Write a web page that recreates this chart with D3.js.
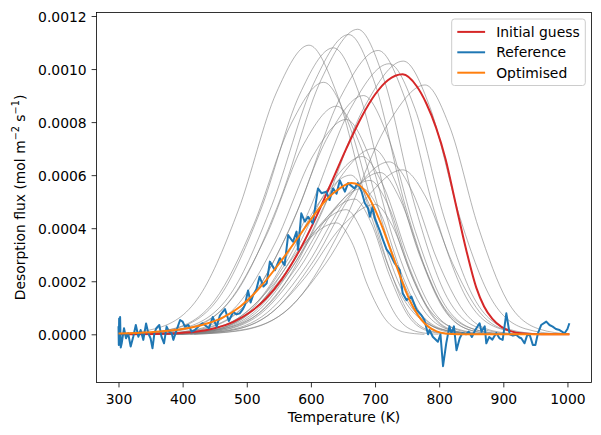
<!DOCTYPE html>
<html><head><meta charset="utf-8">
<script src="https://cdn.jsdelivr.net/npm/d3@7"></script>
<style>body{margin:0;background:#fff}svg{display:block}text{font-family:"DejaVu Sans",sans-serif;fill:#000}</style>
</head><body>
<script>
const xTicks = [300, 400, 500, 600, 700, 800, 900, 1000];
const yTicks = [0, 0.0002, 0.0004, 0.0006, 0.0008, 0.0010, 0.0012];
const legendLabels = ["Initial guess", "Reference", "Optimised"];
const seriesColors = ["#d62728", "#1f77b4", "#ff7f0e"];

const initialGuess = [[300,0],[370,0.000002],[400,0.000006],[420,0.00001],[450,0.000023],[480,0.000048],[505,0.000083],[530,0.000135],[555,0.000209],[580,0.000307],[605,0.000426],[630,0.000561],[655,0.000699],[680,0.000824],[700,0.000904],[720,0.000958],[743,0.00098],[765,0.000935],[780,0.00087],[795,0.00078],[810,0.00066],[825,0.0005],[842,0.00032],[858,0.000175],[870,0.000105],[883,0.000058],[897,0.000028],[910,0.000013],[930,0.000003],[960,0],[1003,0]];

const optimised = [[300,0.000003],[350,0.000008],[400,0.00002],[430,0.000035],[460,0.00006],[490,0.000105],[520,0.000175],[550,0.000265],[580,0.000365],[605,0.00045],[625,0.00051],[645,0.00055],[663,0.00057],[675,0.000562],[687,0.00053],[700,0.00047],[712,0.0004],[724,0.00032],[736,0.00024],[748,0.000162],[760,0.0001],[772,0.000055],[784,0.000027],[796,0.000011],[810,0.000003],[830,0],[1003,0]];

const referenceT = [300,300.5,301,301.8,302.5,303.5,305,308.6,311.7,315,319,323,327,331,334.5,338.7,343,346.5,350,353,356,359,363.6,367,371,375,379,383,385.5,390.6,396,400,403.6,409,414,419,425,431,441,447,453,458,466,472,479,484,489,494,497,502,506,510,515,520,526,531,536,544,551.6,559,564.5,572,577.6,580,585,590.5,595.6,603,611,616.5,624,629,634.6,640,645,653,658,668,673,679,684,689,692,696,699.5,707,712.5,718,724,730,738.5,743,749,756.7,764.5,772,777,782.6,785,790,798,802,806,811,816,819,823,827,832,836,842,846,851,856,863,866,871,873.5,878,883,889,894,899,904.7,910,915,920,925,928,933,937,941,946,950,954,959,967,972,977,982,987.7,995.5,1000,1003];
const referenceV = [0.00003,-0.00004,0.00006,-0.00003,0.000065,-0.00005,-0.000034,0.000023,-0.000015,0.000004,-0.000046,-0.000009,0.000035,-0.000009,0.000016,-0.000021,0.000041,0.000004,-0.000015,-0.000053,0.000004,0.000023,0.000035,-0.000009,-0.000034,0.000029,0.00001,0.000004,-0.000021,0.000016,0.000054,0.000048,0.000029,0.000035,0.00001,0.000016,0.00003,0.000042,0.000023,0.000065,0.000029,0.00007,0.000095,0.00005,0.000085,0.000075,0.000079,0.000095,0.00011,0.000165,0.00012,0.000148,0.00017,0.000217,0.00018,0.000192,0.000274,0.000242,0.000287,0.000261,0.000374,0.000349,0.000387,0.000318,0.000456,0.000425,0.000443,0.000418,0.00055,0.000532,0.000538,0.000506,0.00055,0.00053,0.00058,0.000538,0.00057,0.00055,0.00057,0.000538,0.000495,0.000475,0.000443,0.00048,0.000438,0.000393,0.000355,0.00032,0.0003,0.00027,0.000242,0.000155,0.000129,0.000142,0.000092,0.000073,0.000054,0,0.000016,-0.000009,-0.000028,0,-0.00012,-0.000034,0.00003,0.000004,0.00003,-0.00006,-0.000015,0.000004,0,0.00001,-0.00001,0.000015,0.0000415,0.00001,0.00003,-0.000034,-0.00001,-0.00002,0.000005,-0.000015,-0.000021,0.000079,0,-0.000005,-0.000002,-0.000012,-0.000015,-0.000034,-0.000005,-0.000001,-0.00004,-0.00004,0.000004,0.000035,0.000048,0.000035,0.000029,0.00002,0.000016,0.000004,0.00002,0.0000415];

const sampleA = [[300,0.000002],[359,0.000022],[427,0.000147],[487,0.000469],[546,0.00091],[597,0.00109],[640,0.00091],[691,0.000469],[741,0.000147],[799,0.000022],[856,0]];
const sampleB = [[314,0],[382,0.000019],[450,0.000128],[510,0.000409],[569,0.000793],[620,0.00095],[659,0.000793],[705,0.000409],[750,0.000128],[802,0.000019],[854,0]];
const sampleC = [[318,0],[389,0.000022],[459,0.000146],[521,0.000464],[582,0.000902],[635,0.00108],[676,0.000902],[723,0.000464],[771,0.000146],[825,0.000022],[880,0]];
const sampleD = [[334,0],[402,0.000017],[470,0.000116],[530,0.00037],[589,0.000718],[640,0.00086],[676,0.000718],[718,0.00037],[760,0.000116],[808,0.000017],[856,0]];
const sampleE = [[328,0],[401,0.000023],[475,0.000153],[539,0.000486],[604,0.000944],[659,0.00113],[700,0.000944],[747,0.000486],[795,0.000153],[849,0.000023],[904,0]];
const sampleF = [[349,0],[417,0.000016],[485,0.000109],[545,0.000348],[604,0.000676],[655,0.00081],[690,0.000676],[730,0.000348],[771,0.000109],[817,0.000016],[864,0]];
const sampleG = [[331,0],[407,0.000023],[483,0.000155],[550,0.000495],[616,0.00096],[673,0.00115],[714,0.00096],[761,0.000495],[809,0.000155],[863,0.000023],[918,0]];
const sampleH = [[358,0],[430,0.000018],[502,0.000122],[565,0.000387],[628,0.000752],[682,0.0009],[719,0.000752],[763,0.000387],[806,0.000122],[856,0.000018],[905,0]];
const sampleI = [[352,0],[431,0.000021],[509,0.000144],[578,0.00046],[646,0.000893],[705,0.00107],[746,0.000893],[793,0.00046],[841,0.000144],[895,0.000021],[950,0]];
const sampleJ = [[362,0],[442,0.00002],[522,0.000138],[592,0.000439],[662,0.000852],[722,0.00102],[762,0.000852],[808,0.000439],[854,0.000138],[907,0.00002],[960,0]];
const sampleK = [[384,0],[464,0.000021],[544,0.000139],[614,0.000443],[684,0.00086],[744,0.00103],[785,0.00086],[832,0.000443],[880,0.000139],[934,0.000021],[989,0]];
const sampleL = [[418,0],[498,0.000019],[578,0.000127],[648,0.000404],[718,0.000785],[778,0.00094],[816,0.000785],[861,0.000404],[906,0.000127],[957,0.000019],[1003,0.000001]];
const sampleM = [[380,0],[451,0.000014],[521,0.000095],[583,0.000301],[644,0.000585],[697,0.0007],[730,0.000585],[769,0.000301],[807,0.000095],[851,0.000014],[895,0]];
const sampleN = [[398,0],[470,0.000013],[542,0.000088],[605,0.00028],[668,0.000543],[722,0.00065],[757,0.000543],[797,0.00028],[838,0.000088],[884,0.000013],[931,0]];
const sampleO = [[412,0],[485,0.000012],[559,0.000084],[623,0.000267],[688,0.000518],[743,0.00062],[779,0.000518],[821,0.000267],[863,0.000084],[911,0.000012],[959,0]];
const sampleP = [[374,0],[442,0.000013],[510,0.00009],[570,0.000288],[629,0.000559],[680,0.00067],[713,0.000559],[752,0.000288],[790,0.00009],[834,0.000013],[878,0]];
const sampleQ = [[359,0],[422,0.000008],[484,0.000057],[539,0.000181],[593,0.000351],[640,0.00042],[663,0.000351],[689,0.000181],[716,0.000057],[746,0.000008],[777,0]];
const sampleR = [[367,0],[431,0.000009],[495,0.000063],[551,0.000202],[607,0.000392],[655,0.00047],[679,0.000392],[707,0.000202],[735,0.000063],[767,0.000009],[799,0]];
const sampleS = [[373,0],[438,0.00001],[504,0.000069],[561,0.000219],[619,0.000426],[668,0.00051],[693,0.000426],[723,0.000219],[752,0.000069],[786,0.00001],[819,0]];
const sampleT = [[385,0],[450,0.000011],[516,0.000074],[573,0.000237],[631,0.000459],[680,0.00055],[708,0.000459],[740,0.000237],[772,0.000074],[809,0.000011],[846,0]];
const sampleU = [[386,0],[454,0.000012],[522,0.000078],[582,0.000249],[641,0.000484],[692,0.00058],[721,0.000484],[754,0.000249],[788,0.000078],[826,0.000012],[865,0]];
const sampleV = [[391,0],[462,0.000012],[532,0.000082],[594,0.000262],[655,0.000509],[708,0.00061],[739,0.000509],[776,0.000262],[812,0.000082],[854,0.000012],[895,0]];
const sampleW = [[394,0],[462,0.00001],[530,0.000066],[590,0.000211],[649,0.000409],[700,0.00049],[727,0.000409],[759,0.000211],[790,0.000066],[826,0.00001],[862,0]];
const sampleX = [[374,0],[438,0.000012],[502,0.000081],[558,0.000258],[614,0.000501],[662,0.0006],[689,0.000501],[721,0.000258],[752,0.000081],[788,0.000012],[824,0]];
const samples = [sampleA,sampleB,sampleC,sampleD,sampleE,sampleF,sampleG,sampleH,sampleI,sampleJ,sampleK,sampleL,sampleM,sampleN,sampleO,sampleP,sampleQ,sampleR,sampleS,sampleT,sampleU,sampleV,sampleW,sampleX];

const W = 601, H = 435;
const m = {left: 96.5, top: 12.5, right: 591.5, bottom: 382.5};
const x = d3.scaleLinear().domain([265.7, 1037.5]).range([m.left, m.right]);
const y = d3.scaleLinear().domain([-0.0001817, 0.0012132]).range([m.bottom, m.top]);

const svg = d3.select("body").append("svg").attr("width", W).attr("height", H);
svg.append("defs").append("clipPath").attr("id", "clip")
  .append("rect").attr("x", m.left).attr("y", m.top).attr("width", m.right - m.left).attr("height", m.bottom - m.top);

const plot = svg.append("g").attr("clip-path", "url(#clip)");
const smooth = d3.line().x(d => x(d[0])).y(d => y(d[1])).curve(d3.curveMonotoneX);

plot.selectAll("path.sample").data(samples).join("path").attr("class", "sample")
  .attr("d", smooth).attr("fill", "none").attr("stroke", "#808080").attr("stroke-width", 0.6);

plot.append("path").attr("d", smooth(initialGuess)).attr("fill", "none")
  .attr("stroke", seriesColors[0]).attr("stroke-width", 2);

const refPts = referenceT.map((t, i) => [t, referenceV[i]]);
plot.append("path").attr("d", d3.line().x(d => x(d[0])).y(d => y(d[1]))(refPts)).attr("fill", "none")
  .attr("stroke", seriesColors[1]).attr("stroke-width", 2).attr("stroke-linejoin", "round");

plot.append("path").attr("d", smooth(optimised)).attr("fill", "none")
  .attr("stroke", seriesColors[2]).attr("stroke-width", 2);

// axes
const fs = "13.9px";
const xAxis = svg.append("g").attr("transform", `translate(0,${m.bottom})`)
  .call(d3.axisBottom(x).tickValues(xTicks).tickSize(4.9).tickPadding(4).tickFormat(d3.format("d")));
const yAxis = svg.append("g").attr("transform", `translate(${m.left},0)`)
  .call(d3.axisLeft(y).tickValues(yTicks).tickSize(4.9).tickPadding(4.9).tickFormat(d3.format(".4f")));
[xAxis, yAxis].forEach(g => {
  g.select(".domain").remove();
  g.selectAll(".tick line").attr("stroke", "#000").attr("stroke-width", 0.8);
  g.selectAll(".tick text").attr("font-size", fs).attr("font-family", "DejaVu Sans").attr("fill", "#000");
});
xAxis.selectAll(".tick text").attr("dy", null).attr("y", 21);
yAxis.selectAll(".tick text").attr("dy", "0.36em");

svg.append("rect").attr("x", m.left).attr("y", m.top).attr("width", m.right - m.left).attr("height", m.bottom - m.top)
  .attr("fill", "none").attr("stroke", "#000").attr("stroke-width", 0.8);

svg.append("text").attr("x", (m.left + m.right) / 2).attr("y", 421.5).attr("text-anchor", "middle")
  .attr("font-size", fs).text("Temperature (K)");

const yl = svg.append("text").attr("transform", "translate(24.5,197.5) rotate(-90)").attr("text-anchor", "middle").attr("font-size", fs);
yl.append("tspan").text("Desorption flux (mol m");
yl.append("tspan").attr("dy", -5.5).attr("font-size", "9.7px").text("\u22122");
yl.append("tspan").attr("dy", 5.5).text(" s");
yl.append("tspan").attr("dy", -5.5).attr("font-size", "9.7px").text("\u22121");
yl.append("tspan").attr("dy", 5.5).text(")");

// legend
const lg = svg.append("g");
lg.append("rect").attr("x", 451.7).attr("y", 19).attr("width", 133.6).attr("height", 66.5).attr("rx", 2.8)
  .attr("fill", "#fff").attr("fill-opacity", 0.8).attr("stroke", "#cccccc").attr("stroke-width", 1);
legendLabels.forEach((lab, i) => {
  const cy = 31.9 + i * 20.4;
  lg.append("line").attr("x1", 457.3).attr("x2", 485.1).attr("y1", cy).attr("y2", cy)
    .attr("stroke", seriesColors[i]).attr("stroke-width", 2);
  lg.append("text").attr("x", 496.2).attr("y", cy + 4.9).attr("font-size", fs).text(lab);
});
</script>
</body></html>
